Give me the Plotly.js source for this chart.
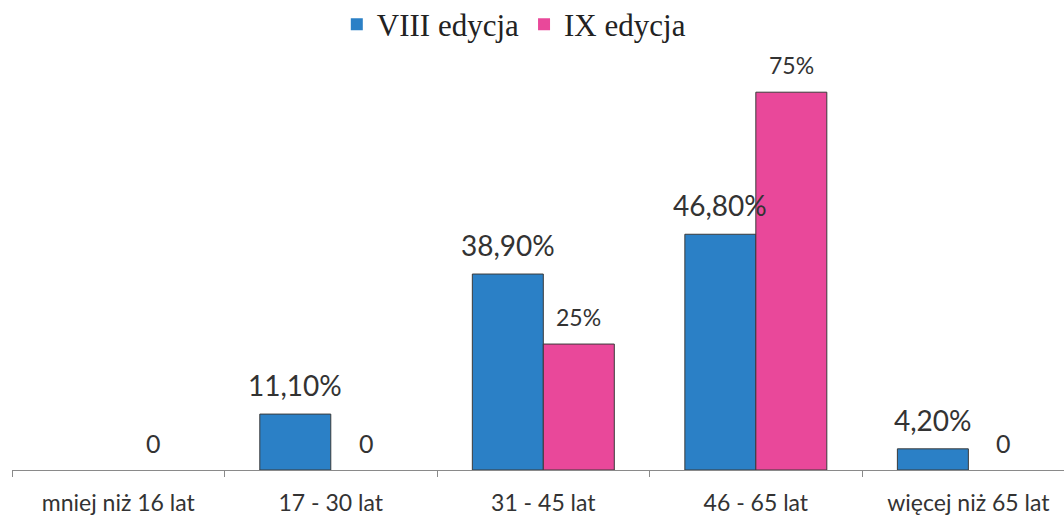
<!DOCTYPE html>
<html>
<head>
<meta charset="utf-8">
<script src="https://cdn.plot.ly/plotly-3.0.1.min.js"></script>
<style>html,body{margin:0;padding:0;background:#fff;}#chart{width:1064px;height:517px;}</style>
</head>
<body>
<div id="chart"></div>
<script>
const categories = ["mniej niż 16 lat", "17 - 30 lat", "31 - 45 lat", "46 - 65 lat", "więcej niż 65 lat"];
const seriesNames = ["VIII edycja", "IX edycja"];
const valuesVIII = [0, 11.1, 38.9, 46.8, 4.2];
const valuesIX = [0, 0, 25, 75, 0];
const labelsVIII = ["", "11,10%", "38,90%", "46,80%", "4,20%"];
const labelsIX = ["0", "0", "25%", "75%", "0"];

const blue = "#2b80c6";
const pink = "#e9489a";
const labelFont = "Lato, 'Open Sans', sans-serif";

function outline(vals) { return vals.map(v => v > 0 ? 1 : 0); }

const traces = [
  {type: "bar", name: seriesNames[0], x: categories, y: valuesVIII,
   marker: {color: blue, line: {color: "#3a3a3a", width: outline(valuesVIII)}}, hoverinfo: "none"},
  {type: "bar", name: seriesNames[1], x: categories, y: valuesIX,
   marker: {color: pink, line: {color: "#3a3a3a", width: outline(valuesIX)}}, hoverinfo: "none"}
];

const annotations = [];
categories.forEach((c, i) => {
  if (labelsVIII[i]) annotations.push({x: c, y: valuesVIII[i], xref: "x", yref: "y",
    text: labelsVIII[i], showarrow: false, xshift: -35.5, yanchor: "bottom", yshift: 10,
    font: {family: labelFont, size: 28, color: "#333"}});
  if (labelsIX[i]) annotations.push({x: c, y: valuesIX[i], xref: "x", yref: "y",
    text: labelsIX[i], showarrow: false, xshift: 35.5, yanchor: "bottom", yshift: labelsIX[i] === "0" ? 10 : 11,
    font: {family: labelFont, size: labelsIX[i] === "0" ? 25 : 23, color: "#333"}});
});

const layout = {
  width: 1064, height: 517,
  margin: {l: 12, r: 0, t: 67, b: 47, pad: 0, autoexpand: false},
  paper_bgcolor: "#fff", plot_bgcolor: "#fff",
  barmode: "group", bargap: 0.332, bargroupgap: 0,
  showlegend: true,
  legend: {orientation: "h", x: 0.477, xanchor: "center", y: 1.172, yanchor: "top",
    font: {family: "'Liberation Serif', 'Times New Roman', serif", size: 31, color: "#222"},
    traceorder: "normal", itemclick: false},
  xaxis: {type: "category", range: [-0.5, 4.45], showline: true, linecolor: "#8a8a8a", linewidth: 1,
    ticks: "outside", tickson: "boundaries", ticklen: 6, tickcolor: "#8a8a8a",
    showgrid: false, zeroline: false, ticklabelstandoff: 12, automargin: false,
    tickfont: {family: labelFont, size: 23, color: "#333"}},
  yaxis: {range: [0, 80], visible: false, showgrid: false, zeroline: false, automargin: false},
  annotations: annotations
};

Plotly.newPlot("chart", traces, layout, {staticPlot: true});
</script>
</body>
</html>
